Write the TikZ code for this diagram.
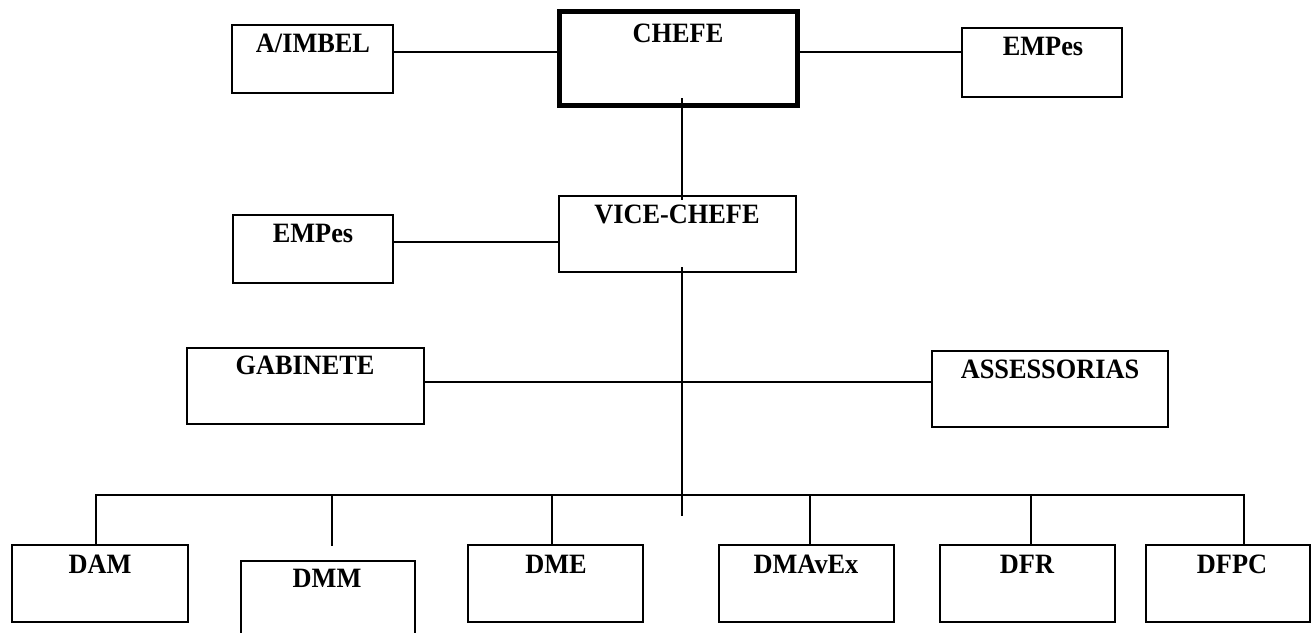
\documentclass[tikz,border=0pt]{standalone}
\usepackage{fontspec}
\setmainfont[FakeStretch=0.94]{Liberation Serif}
\begin{document}
\begin{tikzpicture}[x=1pt,y=1pt,
  box/.style={draw, line width=2.4pt, inner sep=0pt, rectangle},
  thickbox/.style={box, line width=5pt},
  lbl/.style={anchor=base, inner sep=0pt, font=\fontsize{28}{32}\selectfont\bfseries},
  conn/.style={line width=2.2pt, line join=miter}]
\useasboundingbox (0,0) rectangle (1312,632);
% boxes
\node[box, minimum width=161pt, minimum height=68pt] (aimbel) at (312.5,573) {};
\node[thickbox, minimum width=238pt, minimum height=94pt] (chefe) at (678,573) {};
\node[box, minimum width=160pt, minimum height=69pt] (empR) at (1042,569.5) {};
\node[box, minimum width=237pt, minimum height=76pt] (vice) at (677.5,398) {};
\node[box, minimum width=160pt, minimum height=68pt] (empL) at (313,383) {};
\node[box, minimum width=237pt, minimum height=76pt] (gab) at (305.5,246) {};
\node[box, minimum width=236pt, minimum height=76pt] (ass) at (1050,243) {};
\node[box, minimum width=176pt, minimum height=77pt] (dam) at (100,48.5) {};
\node[box, minimum width=174pt, minimum height=79pt] (dmm) at (328,31.5) {};
\node[box, minimum width=175pt, minimum height=77pt] (dme) at (555.5,48.5) {};
\node[box, minimum width=175pt, minimum height=77pt] (dmavex) at (806.5,48.5) {};
\node[box, minimum width=175pt, minimum height=77pt] (dfr) at (1027.5,48.5) {};
\node[box, minimum width=164pt, minimum height=77pt] (dfpc) at (1228,48.5) {};
% labels
\node[lbl] (aimbel-t) at (313,579) {A/IMBEL};
\node[lbl] (chefe-t) at (678,589) {CHEFE};
\node[lbl] (empR-t) at (1043,576) {EMPes};
\node[lbl] (vice-t) at (677,408) {VICE-CHEFE};
\node[lbl] (empL-t) at (313,389) {EMPes};
\node[lbl] (gab-t) at (305,257) {GABINETE};
\node[lbl] (ass-t) at (1050,253) {ASSESSORIAS};
\node[lbl] (dam-t) at (100,59) {DAM};
\node[lbl] (dmm-t) at (327,45) {DMM};
\node[lbl] (dme-t) at (556,59) {DME};
\node[lbl] (dmavex-t) at (806,59) {DMAvEx};
\node[lbl] (dfr-t) at (1027,59) {DFR};
\node[lbl] (dfpc-t) at (1232,59) {DFPC};
% connectors
\draw[conn] ([yshift=7pt]aimbel.east) -- ([yshift=7pt]chefe.west);
\path ([yshift=7pt]chefe.east) coordinate (c1);
\draw[conn] (c1) -- (c1 -| empR.west);
\draw[conn] ([xshift=4pt,yshift=10pt]chefe.south) -- ([xshift=4.5pt,yshift=-5pt]vice.north);
\path ([yshift=-8pt]vice.west) coordinate (c2);
\draw[conn] (c2) -- (c2 -| empL.east);
\coordinate (vend) at (682,116);
\draw[conn] ([xshift=4.5pt,yshift=6pt]vice.south) -- (vend);
\path ([yshift=4pt]gab.east) coordinate (c3);
\draw[conn] (c3) -- (c3 -| ass.west);
\coordinate (busL) at (96,137);
\coordinate (busR) at (1244,137);
\draw[conn] ([xshift=-4pt]dam.north) |- (busL) -- (busR) -- ([xshift=16pt]dfpc.north);
\path ([xshift=4pt,yshift=14pt]dmm.north) coordinate (d1);
\draw[conn] (d1) -- (d1 |- busL);
\draw[conn] ([xshift=-3.5pt]dme.north) -- ([xshift=-3.5pt]dme.north |- busL);
\draw[conn] ([xshift=3.5pt]dmavex.north) -- ([xshift=3.5pt]dmavex.north |- busL);
\draw[conn] ([xshift=3.5pt]dfr.north) -- ([xshift=3.5pt]dfr.north |- busL);
\end{tikzpicture}
\end{document}
